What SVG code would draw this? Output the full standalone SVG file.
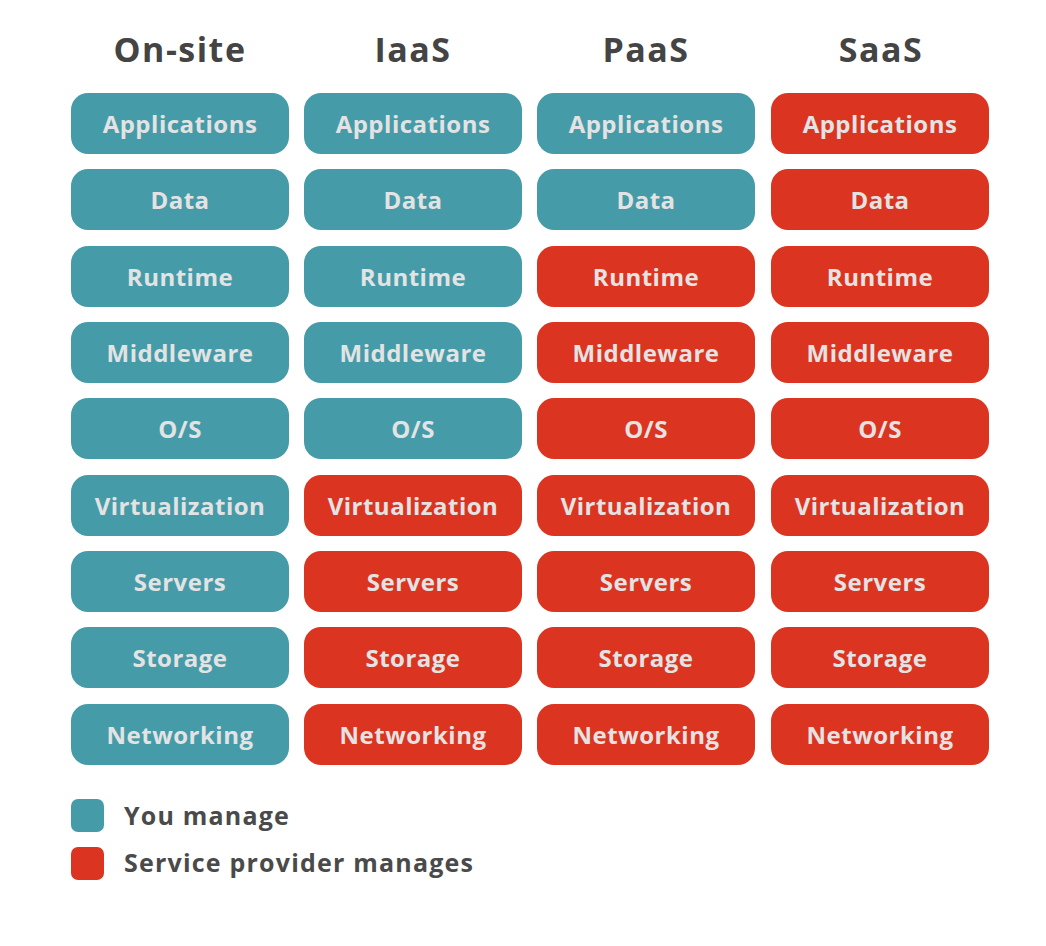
<svg xmlns="http://www.w3.org/2000/svg" width="1046" height="946" viewBox="0 0 1046 946">
  <style>
    .head { font-family: "Open Sans", "Lato", sans-serif; font-weight: 700; font-size: 34px; letter-spacing: 1.5px; fill: #444444; text-anchor: middle; }
    .lbl { font-family: "Open Sans", "Lato", sans-serif; font-weight: 700; font-size: 24px; letter-spacing: 0.5px; fill: #E3E3E3; text-anchor: middle; }
    .leg { font-family: "Open Sans", "Lato", sans-serif; font-weight: 700; font-size: 25px; letter-spacing: 1.2px; fill: #4A4A4A; }
    .you { fill: #469BA8; }
    .sp { fill: #DB3522; }
  </style>
  <rect width="1046" height="946" fill="#FFFFFF"/>

  <!-- column headings -->
  <g id="headings">
    <text class="head" x="180" y="62">On-site</text>
    <text class="head" x="413" y="62">IaaS</text>
    <text class="head" x="646" y="62">PaaS</text>
    <text class="head" x="881" y="62">SaaS</text>
  </g>

  <!-- On-site column -->
  <g id="onsite-applications"><rect class="you" x="71" y="93" width="218" height="61" rx="17"/><text class="lbl" x="180" y="133">Applications</text></g>
  <g id="onsite-data"><rect class="you" x="71" y="169" width="218" height="61" rx="17"/><text class="lbl" x="180" y="209">Data</text></g>
  <g id="onsite-runtime"><rect class="you" x="71" y="246" width="218" height="61" rx="17"/><text class="lbl" x="180" y="286">Runtime</text></g>
  <g id="onsite-middleware"><rect class="you" x="71" y="322" width="218" height="61" rx="17"/><text class="lbl" x="180" y="362">Middleware</text></g>
  <g id="onsite-os"><rect class="you" x="71" y="398" width="218" height="61" rx="17"/><text class="lbl" x="180" y="438">O/S</text></g>
  <g id="onsite-virtualization"><rect class="you" x="71" y="475" width="218" height="61" rx="17"/><text class="lbl" x="180" y="515">Virtualization</text></g>
  <g id="onsite-servers"><rect class="you" x="71" y="551" width="218" height="61" rx="17"/><text class="lbl" x="180" y="591">Servers</text></g>
  <g id="onsite-storage"><rect class="you" x="71" y="627" width="218" height="61" rx="17"/><text class="lbl" x="180" y="667">Storage</text></g>
  <g id="onsite-networking"><rect class="you" x="71" y="704" width="218" height="61" rx="17"/><text class="lbl" x="180" y="744">Networking</text></g>

  <!-- IaaS column -->
  <g id="iaas-applications"><rect class="you" x="304" y="93" width="218" height="61" rx="17"/><text class="lbl" x="413" y="133">Applications</text></g>
  <g id="iaas-data"><rect class="you" x="304" y="169" width="218" height="61" rx="17"/><text class="lbl" x="413" y="209">Data</text></g>
  <g id="iaas-runtime"><rect class="you" x="304" y="246" width="218" height="61" rx="17"/><text class="lbl" x="413" y="286">Runtime</text></g>
  <g id="iaas-middleware"><rect class="you" x="304" y="322" width="218" height="61" rx="17"/><text class="lbl" x="413" y="362">Middleware</text></g>
  <g id="iaas-os"><rect class="you" x="304" y="398" width="218" height="61" rx="17"/><text class="lbl" x="413" y="438">O/S</text></g>
  <g id="iaas-virtualization"><rect class="sp" x="304" y="475" width="218" height="61" rx="17"/><text class="lbl" x="413" y="515">Virtualization</text></g>
  <g id="iaas-servers"><rect class="sp" x="304" y="551" width="218" height="61" rx="17"/><text class="lbl" x="413" y="591">Servers</text></g>
  <g id="iaas-storage"><rect class="sp" x="304" y="627" width="218" height="61" rx="17"/><text class="lbl" x="413" y="667">Storage</text></g>
  <g id="iaas-networking"><rect class="sp" x="304" y="704" width="218" height="61" rx="17"/><text class="lbl" x="413" y="744">Networking</text></g>

  <!-- PaaS column -->
  <g id="paas-applications"><rect class="you" x="537" y="93" width="218" height="61" rx="17"/><text class="lbl" x="646" y="133">Applications</text></g>
  <g id="paas-data"><rect class="you" x="537" y="169" width="218" height="61" rx="17"/><text class="lbl" x="646" y="209">Data</text></g>
  <g id="paas-runtime"><rect class="sp" x="537" y="246" width="218" height="61" rx="17"/><text class="lbl" x="646" y="286">Runtime</text></g>
  <g id="paas-middleware"><rect class="sp" x="537" y="322" width="218" height="61" rx="17"/><text class="lbl" x="646" y="362">Middleware</text></g>
  <g id="paas-os"><rect class="sp" x="537" y="398" width="218" height="61" rx="17"/><text class="lbl" x="646" y="438">O/S</text></g>
  <g id="paas-virtualization"><rect class="sp" x="537" y="475" width="218" height="61" rx="17"/><text class="lbl" x="646" y="515">Virtualization</text></g>
  <g id="paas-servers"><rect class="sp" x="537" y="551" width="218" height="61" rx="17"/><text class="lbl" x="646" y="591">Servers</text></g>
  <g id="paas-storage"><rect class="sp" x="537" y="627" width="218" height="61" rx="17"/><text class="lbl" x="646" y="667">Storage</text></g>
  <g id="paas-networking"><rect class="sp" x="537" y="704" width="218" height="61" rx="17"/><text class="lbl" x="646" y="744">Networking</text></g>

  <!-- SaaS column -->
  <g id="saas-applications"><rect class="sp" x="771" y="93" width="218" height="61" rx="17"/><text class="lbl" x="880" y="133">Applications</text></g>
  <g id="saas-data"><rect class="sp" x="771" y="169" width="218" height="61" rx="17"/><text class="lbl" x="880" y="209">Data</text></g>
  <g id="saas-runtime"><rect class="sp" x="771" y="246" width="218" height="61" rx="17"/><text class="lbl" x="880" y="286">Runtime</text></g>
  <g id="saas-middleware"><rect class="sp" x="771" y="322" width="218" height="61" rx="17"/><text class="lbl" x="880" y="362">Middleware</text></g>
  <g id="saas-os"><rect class="sp" x="771" y="398" width="218" height="61" rx="17"/><text class="lbl" x="880" y="438">O/S</text></g>
  <g id="saas-virtualization"><rect class="sp" x="771" y="475" width="218" height="61" rx="17"/><text class="lbl" x="880" y="515">Virtualization</text></g>
  <g id="saas-servers"><rect class="sp" x="771" y="551" width="218" height="61" rx="17"/><text class="lbl" x="880" y="591">Servers</text></g>
  <g id="saas-storage"><rect class="sp" x="771" y="627" width="218" height="61" rx="17"/><text class="lbl" x="880" y="667">Storage</text></g>
  <g id="saas-networking"><rect class="sp" x="771" y="704" width="218" height="61" rx="17"/><text class="lbl" x="880" y="744">Networking</text></g>

  <!-- no connectors in this chart -->
  <g id="connectors"/>

  <!-- legend -->
  <g id="legend-you">
    <rect class="you" x="71" y="799" width="33" height="33" rx="7"/>
    <text class="leg" x="124" y="825">You manage</text>
  </g>
  <g id="legend-provider">
    <rect class="sp" x="71" y="847" width="33" height="33" rx="7"/>
    <text class="leg" x="124" y="872">Service provider manages</text>
  </g>
</svg>
